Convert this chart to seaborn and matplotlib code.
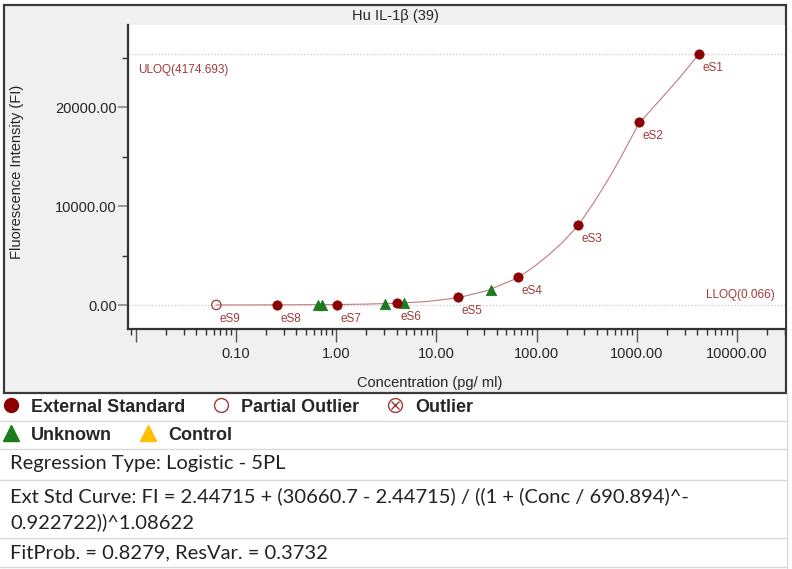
import matplotlib
matplotlib.use('Agg')

import seaborn as sns
import matplotlib.pyplot as plt
from matplotlib.lines import Line2D
from matplotlib.patches import Rectangle
from matplotlib.ticker import FixedLocator, LogLocator, NullFormatter

# --- data ---
std_names = ['eS1', 'eS2', 'eS3', 'eS4', 'eS5', 'eS6', 'eS7', 'eS8']
std_conc = [4174.693, 1043.67, 260.92, 65.23, 16.31, 4.077, 1.019, 0.2548]
std_fi = [25350, 18480, 8080, 2830, 810, 180, 47, 14]

partial_names = ['eS9']
partial_conc = [0.0637]
partial_fi = [5]

unknown_conc = [0.66, 0.72, 3.07, 4.75, 35.1]
unknown_fi = [32, 36, 140, 210, 1510]

curve_conc = [0.0637, 0.2548, 1.019, 2.0, 4.077, 8.0, 16.31, 32.0, 65.23, 95.0,
              130.0, 180.0, 260.92, 370.0, 520.0, 700.0, 1043.67, 1500.0, 2000.0,
              2800.0, 4174.693]
curve_fi = [5, 14, 47, 90, 180, 350, 720, 1450, 2750, 3900,
            5000, 6300, 8050, 10300, 12700, 15000, 18300, 20100, 21500,
            23200, 25350]

uloq_fi = 25350
lloq_fi = 5
uloq_label = 'ULOQ(4174.693)'
lloq_label = 'LLOQ(0.066)'

x_major = [0.01, 0.1, 1, 10, 100, 1000, 10000]
x_labels = ['', '0.10', '1.00', '10.00', '100.00', '1000.00', '10000.00']
y_major = [0, 10000, 20000]
y_minor = [5000, 15000, 25000]

legend_row1 = ['External Standard', 'Partial Outlier', 'Outlier']
legend_row2 = ['Unknown', 'Control']

table_lines = ['Regression Type: Logistic - 5PL',
               'Ext Std Curve: FI = 2.44715 + (30660.7 - 2.44715) / ((1 + (Conc / 690.894)^-',
               '0.922722))^1.08622',
               'FitProb. = 0.8279, ResVar. = 0.3732']

W, H = 792, 569


def fx(px):
    return px / W


def fy(py):
    return 1 - py / H


sns.set_theme(style="white")
plt.rcParams['font.family'] = ['Liberation Sans', 'DejaVu Sans']

fig = plt.figure(figsize=(W / 100, H / 100), dpi=100)
fig.patch.set_facecolor('white')

# grey chart frame
fig.patches.append(Rectangle((fx(4), fy(393)), fx(786) - fx(4), fy(5) - fy(393),
                             transform=fig.transFigure, facecolor='#f0f0f0',
                             edgecolor='#3a3a3a', lw=1.6, zorder=-1))

ax = fig.add_axes([fx(128), fy(329), fx(785) - fx(128), fy(25) - fy(329)])
ax.set_facecolor('white')

ax.axhline(uloq_fi, color='#c8c8c8', lw=0.9, ls=':', zorder=1)
ax.axhline(lloq_fi, color='#c8c8c8', lw=0.9, ls=':', zorder=1)

sns.lineplot(x=curve_conc, y=curve_fi, sort=False, color='#bf7a80', lw=0.8, ax=ax, zorder=2)
sns.scatterplot(x=unknown_conc, y=unknown_fi, marker='^', color='#1d7a1d', s=55,
                edgecolor='#1d7a1d', ax=ax, zorder=3)
sns.scatterplot(x=std_conc, y=std_fi, marker='o', color='#8b0000', s=45,
                edgecolor='#8b0000', ax=ax, zorder=4)
sns.scatterplot(x=partial_conc, y=partial_fi, marker='o', facecolors='none',
                edgecolor='#a03a3a', linewidth=0.9, s=45, ax=ax, zorder=4)

for name, c, f in zip(std_names + partial_names, std_conc + partial_conc, std_fi + partial_fi):
    ax.annotate(name, (c, f), xytext=(14, -14), textcoords='offset pixels',
                ha='center', va='center', fontsize=8.5, color='#a03a3a')

ax.annotate(uloq_label, (0, uloq_fi), xycoords=('axes fraction', 'data'),
            xytext=(10, -16), textcoords='offset pixels', ha='left', va='center',
            fontsize=8.5, color='#a03a3a')
ax.annotate(lloq_label, (1, lloq_fi), xycoords=('axes fraction', 'data'),
            xytext=(-10, 10), textcoords='offset pixels', ha='right', va='center',
            fontsize=8.5, color='#a03a3a')

ax.set_xscale('log')
ax.set_xlim(0.00836, 30130)
ax.set_ylim(-2424, 28283)

ax.xaxis.set_major_locator(FixedLocator(x_major))
ax.set_xticklabels(x_labels)
ax.xaxis.set_minor_locator(LogLocator(base=10, subs=range(2, 10), numticks=20))
ax.xaxis.set_minor_formatter(NullFormatter())
ax.yaxis.set_major_locator(FixedLocator(y_major))
ax.set_yticklabels([f'{v:.2f}' for v in y_major])
ax.yaxis.set_minor_locator(FixedLocator(y_minor))

ax.tick_params(axis='x', which='major', direction='out', length=9, width=1, color='#555',
               labelsize=10.5, pad=4, bottom=True)
ax.tick_params(axis='x', which='minor', direction='out', length=4, width=1, color='#333', bottom=True)
ax.tick_params(axis='y', which='major', direction='out', length=7, width=1.2, color='#888',
               labelsize=10.5, pad=1, left=True)
ax.tick_params(axis='y', which='minor', direction='out', length=4, width=1, color='#333', left=True)

for side in ['top', 'right']:
    ax.spines[side].set_visible(False)
for side in ['left', 'bottom']:
    ax.spines[side].set_color('#333')
    ax.spines[side].set_linewidth(1.6)

fig.text(fx(395), fy(16), 'Hu IL-1β (39)', ha='center', va='center', fontsize=10.5)
fig.text(fx(17), fy(172), 'Fluorescence Intensity (FI)', rotation=90, ha='center',
         va='center', fontsize=10.5)
fig.text(fx(430), fy(383), 'Concentration (pg/ ml)', ha='center', va='center', fontsize=10.5)

# legend below the chart
outlier_handle = (Line2D([], [], ls='', marker='o', ms=10, mfc='none', mec='#a03a3a', mew=1),
                  Line2D([], [], ls='', marker='x', ms=6, mec='#a03a3a', mew=1))
h1 = [Line2D([], [], ls='', marker='o', ms=10, color='#8b0000'),
      Line2D([], [], ls='', marker='o', ms=10, mfc='none', mec='#a03a3a', mew=1),
      outlier_handle]
h2 = [Line2D([], [], ls='', marker='^', ms=11, color='#1d7a1d'),
      Line2D([], [], ls='', marker='^', ms=11, color='#ffc000')]
leg_font = {'weight': 'bold', 'size': 13}
fig.legend(h1, legend_row1, loc='center left', bbox_to_anchor=(fx(2), fy(407)), ncol=3,
           frameon=False, prop=leg_font, handlelength=1, handletextpad=0.6,
           columnspacing=1.5, borderpad=0, borderaxespad=0)
fig.legend(h2, legend_row2, loc='center left', bbox_to_anchor=(fx(2), fy(435)), ncol=2,
           frameon=False, prop=leg_font, handlelength=1, handletextpad=0.6,
           columnspacing=1.5, borderpad=0, borderaxespad=0)

# table grid and text
for yy in [421, 449, 480, 538, 567]:
    fig.add_artist(Line2D([0, fx(787)], [fy(yy), fy(yy)], color='#d9d9d9', lw=1))
fig.add_artist(Line2D([fx(787), fx(787)], [fy(393), 0], color='#d9d9d9', lw=1))

for txt, yy in zip(table_lines, [464, 496, 522, 553]):
    fig.text(fx(10), fy(yy), txt, ha='left', va='center', fontsize=14.5,
             family=['Lato', 'DejaVu Sans'], color='#222')

fig.savefig('out.png', dpi=100)
